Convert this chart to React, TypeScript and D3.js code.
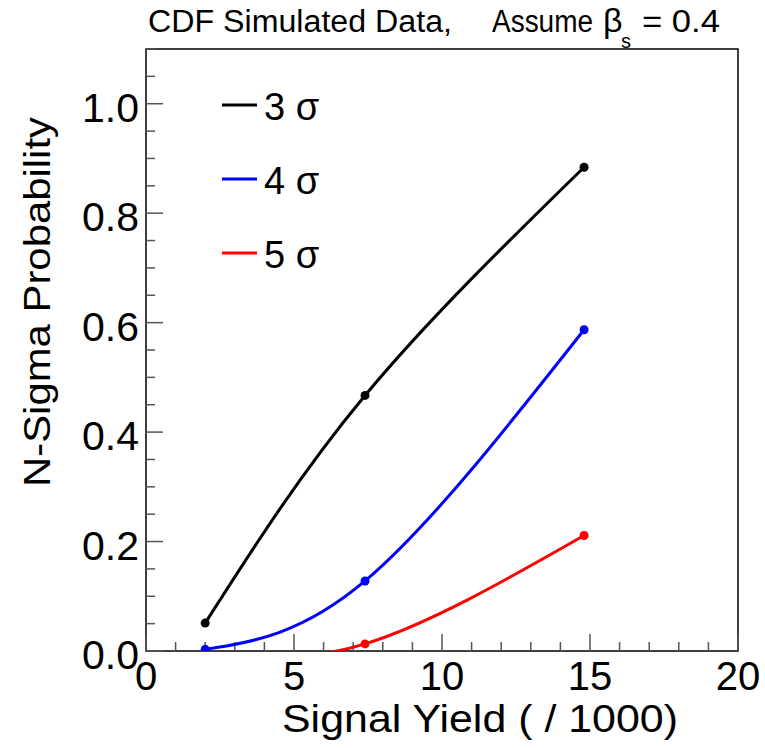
import React from "react";
import * as d3 from "d3";

const xs = [2, 7.4, 14.8];
const sigma3 = [0.051, 0.467, 0.884];
const sigma4 = [0.003, 0.128, 0.587];
const sigma5 = [-0.002, 0.013, 0.211];
const seriesNames = ["3 σ", "4 σ", "5 σ"];
const seriesColors = ["#000000", "#0000ff", "#ff0000"];
const xTicks = [0, 5, 10, 15, 20];
const yTicks = [0, 0.2, 0.4, 0.6, 0.8, 1.0];

const W = 765, H = 748;
const L = 146, R = 738, T = 49, B = 651;
const FONT = "'Liberation Sans', Arial, Helvetica, sans-serif";

export default function App() {
  const x = d3.scaleLinear().domain([0, 20]).range([L, R]);
  const y = d3.scaleLinear().domain([0, 1.1]).range([B, T]);
  const line = d3
    .line<[number, number]>()
    .x((d) => x(d[0]))
    .y((d) => y(d[1]))
    .curve(d3.curveNatural);
  const series = [sigma3, sigma4, sigma5];
  const xMinor = d3.range(0, 21, 1).filter((v) => v % 5 !== 0);
  const yMinor = d3.range(0, 23).map((i) => i * 0.05).filter((v) => Math.round(v * 100) % 20 !== 0 && v <= 1.1 + 1e-9);

  return (
    <svg width={W} height={H} style={{ position: "absolute", left: 0, top: 0, background: "#fff" }} fontFamily={FONT}>
      <rect x={0} y={0} width={W} height={H} fill="#fff" />
      <defs>
        <clipPath id="frame">
          <rect x={L} y={T} width={R - L} height={B - T} />
        </clipPath>
      </defs>
      {/* title */}
      <text x={148} y={32} fontSize={31} fill="#000" textLength={304} lengthAdjust="spacingAndGlyphs">CDF Simulated Data,</text>
      <text x={492} y={32} fontSize={31} fill="#000" textLength={101} lengthAdjust="spacingAndGlyphs">Assume</text>
      <text x={603} y={32} fontSize={34} fill="#000">β</text>
      <text x={621} y={48} fontSize={20} fill="#000">s</text>
      <text x={642} y={32} fontSize={31} fill="#000" textLength={78} lengthAdjust="spacingAndGlyphs">= 0.4</text>
      {/* frame */}
      <rect x={L} y={T} width={R - L} height={B - T} fill="none" stroke="#000" strokeWidth={1.5} />
      {/* x ticks */}
      {xTicks.map((v) => (
        <line key={"xt" + v} x1={x(v)} x2={x(v)} y1={B} y2={B - 17} stroke="#555" strokeWidth={1.5} />
      ))}
      {xMinor.map((v) => (
        <line key={"xm" + v} x1={x(v)} x2={x(v)} y1={B} y2={B - 9} stroke="#555" strokeWidth={1.5} />
      ))}
      {xTicks.map((v) => (
        <text key={"xl" + v} x={x(v)} y={690} fontSize={40} textAnchor="middle" fill="#000">
          {v}
        </text>
      ))}
      {/* y ticks */}
      {yTicks.map((v) => (
        <line key={"yt" + v} x1={L} x2={L + 17} y1={y(v)} y2={y(v)} stroke="#555" strokeWidth={1.5} />
      ))}
      {yMinor.map((v) => (
        <line key={"ym" + v} x1={L} x2={L + 9} y1={y(v)} y2={y(v)} stroke="#555" strokeWidth={1.5} />
      ))}
      {yTicks.map((v) => (
        <text key={"yl" + v} x={139} y={y(v) + 18} fontSize={41} textAnchor="end" fill="#000">
          {v.toFixed(1)}
        </text>
      ))}
      {/* axis titles */}
      <text x={282} y={732} fontSize={38} fill="#000" textLength={396} lengthAdjust="spacingAndGlyphs">
        Signal Yield ( / 1000)
      </text>
      <text transform="translate(50,487) rotate(-90)" fontSize={37} fill="#000" textLength={370} lengthAdjust="spacingAndGlyphs">
        N-Sigma Probability
      </text>
      {/* curves */}
      <g clipPath="url(#frame)">
        {series.slice().reverse().map((s, ri) => {
          const i = series.length - 1 - ri;
          const pts = xs.map((xv, j) => [xv, s[j]] as [number, number]);
          return (
            <g key={"s" + i}>
              <path d={line(pts) || ""} fill="none" stroke={seriesColors[i]} strokeWidth={3} />
              {pts.map((p, j) => (
                <circle key={j} cx={x(p[0])} cy={y(p[1])} r={4.5} fill={seriesColors[i]} />
              ))}
            </g>
          );
        })}
      </g>
      {/* legend */}
      {seriesNames.map((n, i) => {
        const ly = 105 + i * 74;
        return (
          <g key={"lg" + i}>
            <line x1={222} x2={257} y1={ly} y2={ly} stroke={seriesColors[i]} strokeWidth={3} />
            <text x={264} y={ly + 15} fontSize={38} fill="#000">
              {n}
            </text>
          </g>
        );
      })}
    </svg>
  );
}
